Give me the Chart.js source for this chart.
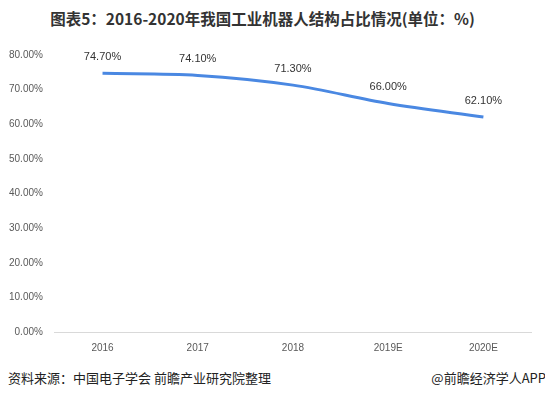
<!DOCTYPE html>
<html>
<head>
<meta charset="utf-8">
<script src="https://cdn.jsdelivr.net/npm/chart.js@4/dist/chart.umd.min.js"></script>
<style>
  body { margin: 0; background: #fff; font-family: "Noto Sans CJK SC", "Microsoft YaHei", sans-serif; }
  #wrap { position: relative; width: 545px; height: 398px; overflow: hidden; }
  #title { position: absolute; top: 7px; left: -10px; width: 545px; text-align: center; font-size: 15.5px; font-weight: bold; color: #333; }
  #box { position: absolute; top: 37px; left: -3px; width: 548px; height: 327px; }
  #src { position: absolute; top: 368px; left: 8px; font-size: 13px; color: #222; }
  #app { position: absolute; top: 368px; right: -1px; font-size: 13px; color: #222; }
</style>
</head>
<body>
<div id="wrap">
  <div id="title">图表5：2016-2020年我国工业机器人结构占比情况(单位：%)</div>
  <div id="box"><canvas id="myChart"></canvas></div>
  <div id="src">资料来源：中国电子学会 前瞻产业研究院整理</div>
  <div id="app">@前瞻经济学人APP</div>
</div>
<script>
const years = ['2016', '2017', '2018', '2019E', '2020E'];
const share = [74.7, 74.1, 71.3, 66.0, 62.1];
const yTicks = [0, 10, 20, 30, 40, 50, 60, 70, 80];

const ctx = document.getElementById('myChart');

// labels above each point
const pointLabels = {
  id: 'pointLabels',
  afterDatasetsDraw(chart) {
    const c = chart.ctx;
    const meta = chart.getDatasetMeta(0);
    c.save();
    c.font = '11px "Liberation Sans", Arial, sans-serif';
    c.fillStyle = '#333';
    c.textAlign = 'center';
    c.textBaseline = 'bottom';
    meta.data.forEach((pt, i) => {
      c.fillText(share[i].toFixed(2) + '%', pt.x, pt.y - 11);
    });
    c.restore();
  }
};

const config = {
  type: 'line',
  data: {
    labels: years,
    datasets: [{
      data: share,
      borderColor: '#4a88e2',
      borderWidth: 3,
      pointRadius: 0,
      fill: false,
      tension: 0.4,
      cubicInterpolationMode: 'monotone'
    }]
  },
  options: {
    responsive: true,
    maintainAspectRatio: false,
    animation: false,
    layout: { padding: { top: 3, right: 14, left: 0, bottom: 0 } },
    plugins: { legend: { display: false }, tooltip: { enabled: false } },
    scales: {
      x: {
        offset: true,
        grid: { display: false, drawTicks: false },
        border: { display: true, color: '#d9d9d9' },
        ticks: { color: '#595959', font: { size: 10, family: '"Liberation Sans", Arial, sans-serif' }, padding: 10 }
      },
      y: {
        min: 0, max: 80,
        afterBuildTicks: (axis) => { axis.ticks = yTicks.map(v => ({ value: v })); },
        grid: { display: false, drawTicks: false },
        border: { display: false },
        ticks: {
          color: '#595959', padding: 12,
          font: { size: 10, family: '"Liberation Sans", Arial, sans-serif' },
          callback: (v) => v.toFixed(2) + '%'
        }
      }
    }
  },
  plugins: [pointLabels]
};

let chart = new Chart(ctx, config);
</script>
</body>
</html>
